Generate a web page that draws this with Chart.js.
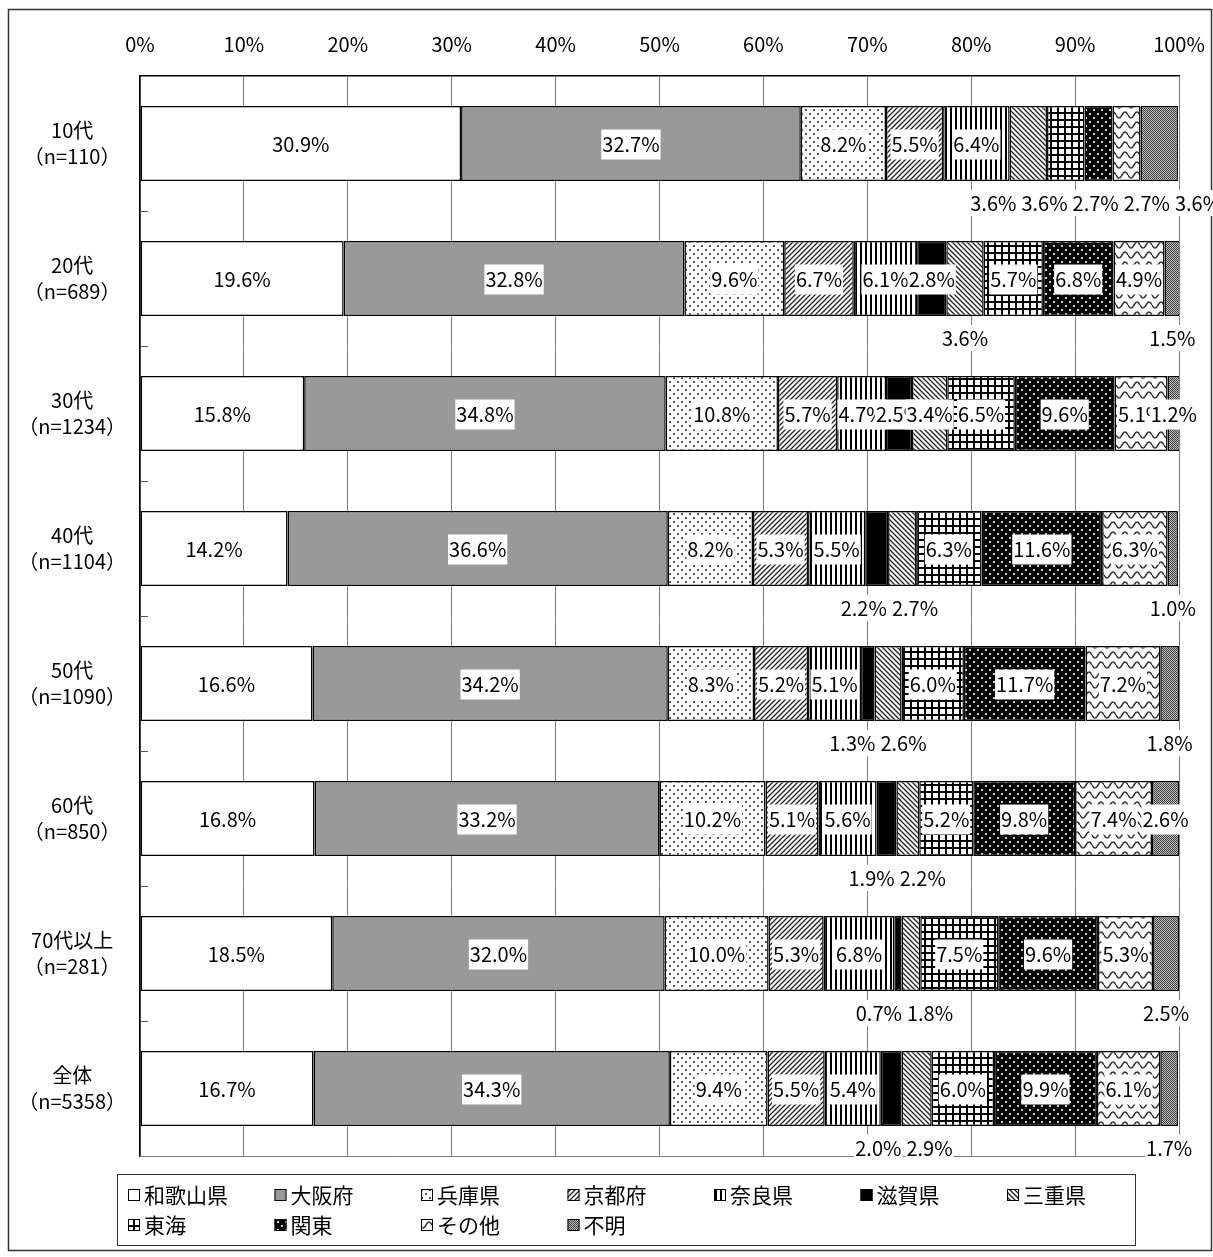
<!DOCTYPE html>
<html>
<head>
<meta charset="utf-8">
<script src="https://cdn.jsdelivr.net/npm/chart.js@4/dist/chart.umd.min.js"></script>
<style>
  html, body { margin: 0; padding: 0; background: #fff; }
  canvas { display: block; }
</style>
</head>
<body>
<canvas id="chart" width="1213" height="1257"></canvas>
<script>
// categories (two-line labels)
var categories = [
  ['10代', '（n=110）'],
  ['20代', '（n=689）'],
  ['30代', '（n=1234）'],
  ['40代', '（n=1104）'],
  ['50代', '（n=1090）'],
  ['60代', '（n=850）'],
  ['70代以上', '（n=281）'],
  ['全体', '（n=5358）']
];

var seriesNames = ['和歌山県', '大阪府', '兵庫県', '京都府', '奈良県', '滋賀県', '三重県', '東海', '関東', 'その他', '不明'];

// series values (%)
var wakayama = [30.9, 19.6, 15.8, 14.2, 16.6, 16.8, 18.5, 16.7];
var osaka    = [32.7, 32.8, 34.8, 36.6, 34.2, 33.2, 32.0, 34.3];
var hyogo    = [8.2, 9.6, 10.8, 8.2, 8.3, 10.2, 10.0, 9.4];
var kyoto    = [5.5, 6.7, 5.7, 5.3, 5.2, 5.1, 5.3, 5.5];
var nara     = [6.4, 6.1, 4.7, 5.5, 5.1, 5.6, 6.8, 5.4];
var shiga    = [0, 2.8, 2.5, 2.2, 1.3, 1.9, 0.7, 2.0];
var mie      = [3.6, 3.6, 3.4, 2.7, 2.6, 2.2, 1.8, 2.9];
var tokai    = [3.6, 5.7, 6.5, 6.3, 6.0, 5.2, 7.5, 6.0];
var kanto    = [2.7, 6.8, 9.6, 11.6, 11.7, 9.8, 9.6, 9.9];
var others   = [2.7, 4.9, 5.1, 6.3, 7.2, 7.4, 5.3, 6.1];
var unknown  = [3.6, 1.5, 1.2, 1.0, 1.8, 2.6, 2.5, 1.7];

var seriesValues = [wakayama, osaka, hyogo, kyoto, nara, shiga, mie, tokai, kanto, others, unknown];

// x axis ticks
var xTicks = [0, 10, 20, 30, 40, 50, 60, 70, 80, 90, 100];

// which series labels sit under the bar, per category
var belowLabels = [[6, 7, 8, 9, 10], [6, 10], [], [5, 6, 10], [5, 6, 10], [5, 6], [5, 6, 10], [5, 6, 10]];

var FONT = '"Noto Sans CJK JP", "Noto Sans", sans-serif';

function tile(w, h, draw) {
  var c = document.createElement('canvas');
  c.width = w; c.height = h;
  var g = c.getContext('2d');
  g.fillStyle = '#fff';
  g.fillRect(0, 0, w, h);
  draw(g);
  return g.createPattern(c, 'repeat');
}

var fills = [
  '#ffffff',
  '#999999',
  tile(8, 8, function (g) {
    g.fillStyle = '#555';
    g.fillRect(1, 1, 2, 2);
    g.fillRect(5, 5, 2, 2);
  }),
  tile(5, 5, function (g) {
    g.strokeStyle = '#222'; g.lineWidth = 1.3;
    g.beginPath();
    g.moveTo(-1, 6); g.lineTo(6, -1);
    g.moveTo(-1, 1); g.lineTo(1, -1);
    g.moveTo(4, 6); g.lineTo(6, 4);
    g.stroke();
  }),
  tile(5, 1, function (g) {
    g.fillStyle = '#000';
    g.fillRect(0, 0, 2, 1);
  }),
  '#000000',
  tile(5, 5, function (g) {
    g.strokeStyle = '#222'; g.lineWidth = 1.3;
    g.beginPath();
    g.moveTo(-1, -1); g.lineTo(6, 6);
    g.moveTo(4, -1); g.lineTo(6, 1);
    g.moveTo(-1, 4); g.lineTo(1, 6);
    g.stroke();
  }),
  tile(7, 7, function (g) {
    g.fillStyle = '#000';
    g.fillRect(0, 0, 7, 2);
    g.fillRect(0, 0, 2, 7);
  }),
  tile(8, 8, function (g) {
    g.fillStyle = '#000';
    g.fillRect(0, 0, 8, 8);
    g.fillStyle = '#ccc';
    g.fillRect(1, 1, 2, 2);
    g.fillRect(5, 5, 2, 2);
  }),
  tile(12, 10, function (g) {
    g.strokeStyle = '#333'; g.lineWidth = 1.5;
    g.beginPath();
    for (var x = 0; x <= 12; x += 0.5) {
      var y = 5 + 3 * Math.sin(2 * Math.PI * x / 12);
      if (x === 0) g.moveTo(x, y); else g.lineTo(x, y);
    }
    g.stroke();
  }),
  tile(2, 2, function (g) {
    g.fillStyle = '#bbb';
    g.fillRect(0, 0, 2, 2);
    g.fillStyle = '#444';
    g.fillRect(0, 0, 1, 1);
    g.fillRect(1, 1, 1, 1);
  })
];

// frame, bottom line, category ticks
var framePlugin = {
  id: 'frame',
  beforeDraw: function (chart) {
    var ctx = chart.ctx;
    ctx.save();
    ctx.fillStyle = '#fff';
    ctx.fillRect(0, 0, chart.width, chart.height);
    ctx.strokeStyle = '#333';
    ctx.lineWidth = 1.5;
    ctx.strokeRect(8.5, 9.5, 1203, 1241);
    ctx.restore();
  },
  beforeDatasetsDraw: function (chart) {
    var ctx = chart.ctx, a = chart.chartArea, y = chart.scales.y;
    ctx.save();
    ctx.strokeStyle = '#808080';
    ctx.lineWidth = 1;
    ctx.beginPath();
    ctx.moveTo(a.left, a.bottom + 0.5);
    ctx.lineTo(a.right, a.bottom + 0.5);
    ctx.stroke();
    ctx.strokeStyle = '#555';
    ctx.beginPath();
    for (var i = 1; i < categories.length; i++) {
      var yy = Math.round((y.getPixelForValue(i - 1) + y.getPixelForValue(i)) / 2) + 0.5;
      ctx.moveTo(a.left, yy);
      ctx.lineTo(a.left + 8, yy);
    }
    ctx.stroke();
    ctx.restore();
  }
};

function boxLabel(ctx, txt, x, y, w, h) {
  ctx.fillStyle = '#fff';
  ctx.fillRect(x - w / 2 - 1, y - h / 2, w + 2, h);
  ctx.fillStyle = '#000';
  ctx.fillText(txt, x, y);
}

var labelPlugin = {
  id: 'labels',
  afterDatasetsDraw: function (chart) {
    var ctx = chart.ctx;
    ctx.save();
    ctx.font = '20px ' + FONT;
    ctx.textAlign = 'center';
    ctx.textBaseline = 'middle';
    for (var j = 0; j < categories.length; j++) {
      var below = [];
      for (var i = 0; i < seriesValues.length; i++) {
        var v = seriesValues[i][j];
        if (!v) continue;
        var el = chart.getDatasetMeta(i).data[j];
        var cx = (el.x + el.base) / 2;
        var txt = v.toFixed(1) + '%';
        var w = ctx.measureText(txt).width;
        if (belowLabels[j].indexOf(i) >= 0) {
          below.push({ txt: txt, w: w, want: cx, y: el.y + el.height / 2 + 22 });
        } else {
          boxLabel(ctx, txt, cx, el.y + 1, w, 30);
        }
      }
      // spread labels under the bar so they don't overlap
      var clusters = [];
      below.forEach(function (b) {
        clusters.push({ items: [b], width: b.w + 5, center: b.want });
        while (clusters.length > 1) {
          var c2 = clusters[clusters.length - 1], c1 = clusters[clusters.length - 2];
          if (c1.center + c1.width / 2 <= c2.center - c2.width / 2) break;
          var items = c1.items.concat(c2.items);
          var sum = 0;
          items.forEach(function (it) { sum += it.want; });
          clusters.splice(clusters.length - 2, 2, {
            items: items, width: c1.width + c2.width, center: sum / items.length
          });
        }
      });
      clusters.forEach(function (c) {
        var x = c.center - c.width / 2;
        c.items.forEach(function (it) {
          var wi = it.w + 5;
          boxLabel(ctx, it.txt, x + wi / 2, it.y, it.w, 26);
          x += wi;
        });
      });
    }
    ctx.restore();
  }
};

var legendPlugin = {
  id: 'customLegend',
  afterDraw: function (chart) {
    var ctx = chart.ctx;
    ctx.save();
    ctx.strokeStyle = '#333';
    ctx.lineWidth = 1;
    ctx.strokeRect(117.5, 1174.5, 1018, 71);
    ctx.font = '21px ' + FONT;
    ctx.textAlign = 'left';
    ctx.textBaseline = 'middle';
    for (var i = 0; i < seriesNames.length; i++) {
      var col = i % 7, row = Math.floor(i / 7);
      var x = 128 + col * 146.5, y = 1195 + row * 30;
      ctx.fillStyle = fills[i];
      ctx.fillRect(x, y - 6, 12, 12);
      ctx.strokeStyle = '#000';
      ctx.strokeRect(x + 0.5, y - 5.5, 11, 11);
      ctx.fillStyle = '#000';
      ctx.fillText(seriesNames[i], x + 16, y);
    }
    ctx.restore();
  }
};

var datasets = seriesNames.map(function (name, i) {
  return {
    label: name,
    data: seriesValues[i],
    backgroundColor: fills[i],
    borderColor: '#000',
    borderWidth: 1.5,
    borderSkipped: false,
    barPercentage: 75 / 135,
    categoryPercentage: 1
  };
});

new Chart(document.getElementById('chart'), {
  type: 'bar',
  data: { labels: categories, datasets: datasets },
  options: {
    indexAxis: 'y',
    responsive: false,
    animation: false,
    layout: { padding: { left: 0, top: 0, right: 34, bottom: 101 } },
    plugins: { legend: { display: false }, tooltip: { enabled: false } },
    scales: {
      x: {
        position: 'top',
        stacked: true,
        min: 0,
        max: 100,
        afterBuildTicks: function (s) { s.ticks = xTicks.map(function (v) { return { value: v }; }); },
        ticks: {
          callback: function (v) { return v + '%'; },
          color: '#000',
          font: { family: FONT, size: 20 },
          padding: 20
        },
        grid: { color: '#808080', lineWidth: 1, drawTicks: false },
        border: { color: '#000', width: 1.5 },
        afterFit: function (s) {
          s.height = 76;
          s.paddingLeft = 0;
          s.paddingRight = 0;
        }
      },
      y: {
        stacked: true,
        ticks: {
          color: '#000',
          font: { family: FONT, size: 20, lineHeight: 1.3 },
          crossAlign: 'center',
          padding: 6
        },
        grid: { display: false },
        border: { color: '#000', width: 1.5 },
        afterFit: function (s) {
          s.width = 140;
          s.paddingTop = 0;
          s.paddingBottom = 0;
        }
      }
    }
  },
  plugins: [framePlugin, labelPlugin, legendPlugin]
});
</script>
</body>
</html>
